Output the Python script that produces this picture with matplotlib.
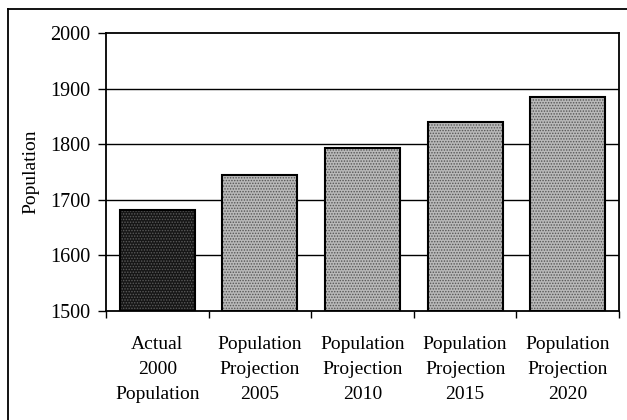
import matplotlib
matplotlib.use("Agg")
import matplotlib.pyplot as plt
from matplotlib.lines import Line2D
import numpy as np

categories = ["Actual\n2000\nPopulation",
              "Population\nProjection\n2005",
              "Population\nProjection\n2010",
              "Population\nProjection\n2015",
              "Population\nProjection\n2020"]
values = [1681, 1745, 1794, 1840, 1885]
y_ticks = [1500, 1600, 1700, 1800, 1900, 2000]

plt.rcParams['font.family'] = ['Liberation Serif', 'DejaVu Serif']
plt.rcParams['hatch.linewidth'] = 0.7

fig = plt.figure(figsize=(6.27, 4.2), dpi=100)
ax = fig.add_axes([106/627, 1 - 311/420, (619-106)/627, (311-33)/420])

x = np.arange(len(categories))
width = 0.73

# gridlines behind bars
for t in y_ticks[1:-1]:
    ax.axhline(t, color="black", lw=1.0, zorder=1)

# stippled fill
fills = ["#161616"] + ["#b9b9b9"] * 4
dots = ["#5a5a5a"] + ["#555555"] * 4
for i in range(len(values)):
    ax.bar(x[i], values[i] - 1500, width, bottom=1500, color=fills[i],
           hatch="......", edgecolor=dots[i], linewidth=0, zorder=2)
ax.bar(x, np.array(values) - 1500, width, bottom=1500, fill=False,
       edgecolor="black", linewidth=1.5, zorder=3)

ax.set_xlim(-0.5, len(categories) - 0.5)
ax.set_ylim(1500, 2000)
ax.set_yticks(y_ticks)
ax.set_xticks(x)
ax.set_xticklabels(categories, fontsize=14, linespacing=1.6)
ax.set_xticks(np.arange(-0.5, len(categories)), minor=True)
ax.tick_params(axis="x", which="major", length=0, pad=18)
ax.tick_params(axis="x", which="minor", length=5, width=1, direction="out")
ax.tick_params(axis="y", labelsize=14.5, length=6, width=1, direction="out", pad=5)
for s in ax.spines.values():
    s.set_linewidth(1.3)

ax.set_ylabel("Population", fontsize=14, labelpad=8)

# outer chart frame (left and top edges visible)
fig.add_artist(Line2D([8/627, 8/627], [0, 1 - 9/420], color="black", lw=1.3))
fig.add_artist(Line2D([8/627, 1], [1 - 9/420, 1 - 9/420], color="black", lw=1.3))

fig.savefig("out.png", dpi=100)
